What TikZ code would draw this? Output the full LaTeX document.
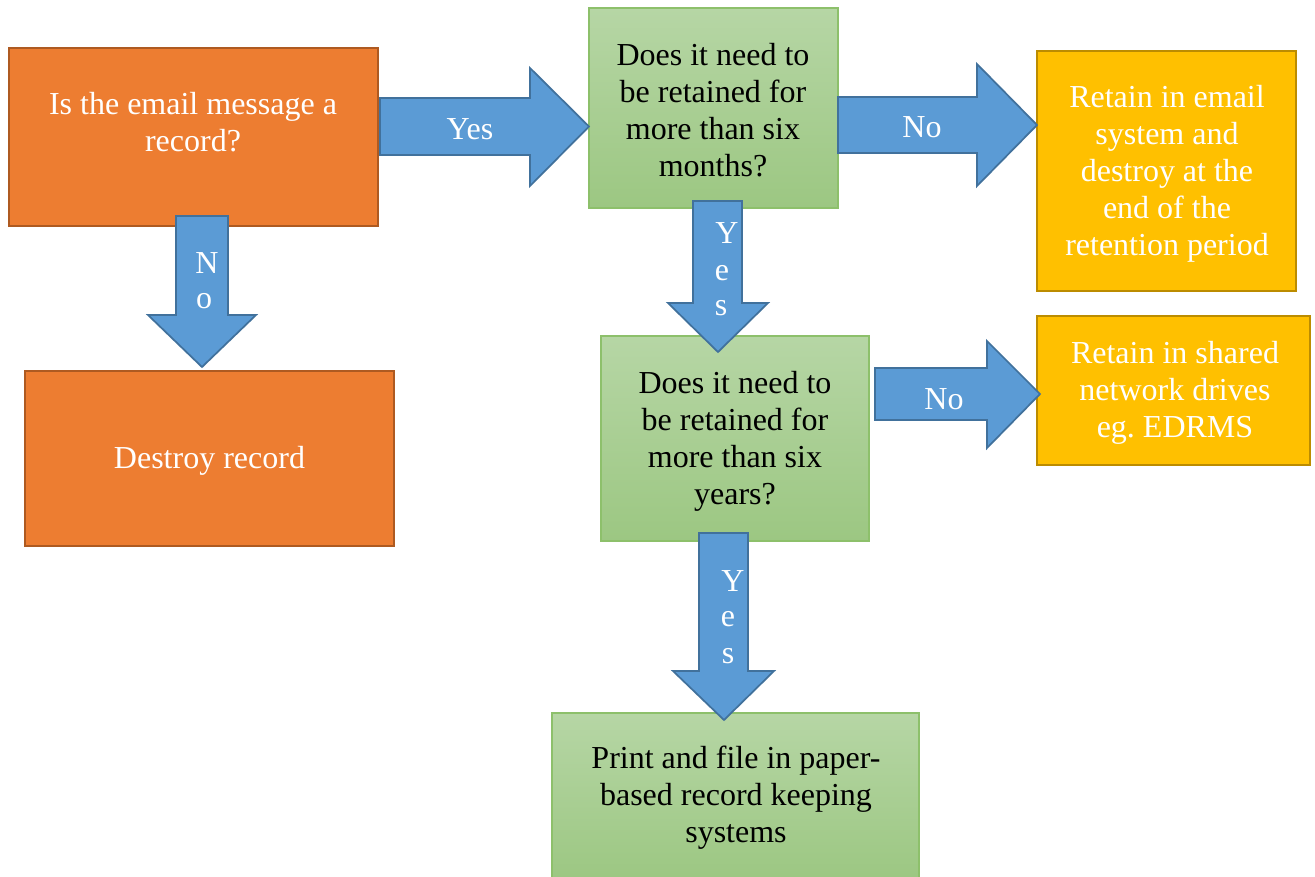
\documentclass[tikz,border=0pt]{standalone}
\usepackage{fontspec}
\setmainfont{Liberation Serif}
\frenchspacing
\definecolor{orfill}{HTML}{ED7D31}
\definecolor{ordraw}{HTML}{AE5A21}
\definecolor{grtop}{HTML}{B6D6A5}
\definecolor{grbot}{HTML}{9CC782}
\definecolor{grdraw}{HTML}{8DC06B}
\definecolor{yefill}{HTML}{FFC000}
\definecolor{yedraw}{HTML}{BC8C00}
\definecolor{blfill}{HTML}{5B9BD5}
\definecolor{bldraw}{HTML}{41719C}
\tikzset{
  box/.style={rectangle, inner sep=0pt, line width=1.3pt},
  orbox/.style={box, fill=orfill, draw=ordraw},
  grbox/.style={box, top color=grtop, bottom color=grbot, draw=grdraw},
  yebox/.style={box, fill=yefill, draw=yedraw},
  txt/.style={align=center, inner sep=0pt, font=\fontsize{24}{27.75}\selectfont},
  wtxt/.style={txt, text=white},
  btxt/.style={txt, text=black},
  fat/.style={fill=blfill, draw=bldraw, line width=1.3pt, line join=miter},
}
\begin{document}
\begin{tikzpicture}[x=0.75pt, y=-0.75pt]
\useasboundingbox (0,0) rectangle (1315,876);
% boxes
\node[orbox, minimum width=369*0.75pt, minimum height=178*0.75pt] (box1) at (193.5,137) {};
\node[wtxt] (t1) at (193,122) {Is the email message a\\record?};
\node[orbox, minimum width=369*0.75pt, minimum height=175*0.75pt] (destroy) at (209.5,458.5) {};
\node[wtxt] (t2) at (209.5,461) {Destroy record};
\node[grbox, minimum width=249*0.75pt, minimum height=200*0.75pt] (q1) at (713.5,108) {};
\node[btxt] (t3) at (713,110) {Does it need to\\be retained for\\more than six\\months?};
\node[yebox, minimum width=259*0.75pt, minimum height=240*0.75pt] (ret1) at (1166.5,171) {};
\node[wtxt] (t4) at (1167,173.5) {Retain in email\\system and\\destroy at the\\end of the\\retention period};
\node[grbox, minimum width=268*0.75pt, minimum height=205*0.75pt] (q2) at (735,438.5) {};
\node[btxt] (t5) at (735,441) {Does it need to\\be retained for\\more than six\\years?};
\node[yebox, minimum width=273*0.75pt, minimum height=149*0.75pt] (ret2) at (1173.5,390.5) {};
\node[wtxt] (t6) at (1175,393) {Retain in shared\\network drives\\eg. EDRMS};
\node[grbox, minimum width=367*0.75pt, minimum height=167*0.75pt] (print) at (735.5,796.5) {};
\node[btxt] (t7) at (736,798) {Print and file in paper-\\based record keeping\\systems};
% block arrows
\draw[fat] (380,98) -- (530,98) -- (530,68) -- (589,126.5) -- (530,186) -- (530,155) -- (380,155) -- cycle;
\node[wtxt] (y1) at (470,129) {Yes};
\draw[fat] (838,97) -- (977,97) -- (977,64) -- (1037,125) -- (977,186) -- (977,153) -- (838,153) -- cycle;
\node[wtxt] (n1) at (922,127) {No};
\draw[fat] (875,368) -- (987,368) -- (987,341) -- (1040,394) -- (987,448) -- (987,420) -- (875,420) -- cycle;
\node[wtxt] (n2) at (944,399) {No};
\draw[fat] (176,216) -- (228,216) -- (228,315) -- (256,315) -- (202,367) -- (148,315) -- (176,315) -- cycle;
\node[wtxt] (n3a) at (207,263) {N};
\node[wtxt] (n3b) at (204,301) {o};
\draw[fat] (693,201) -- (742,201) -- (742,303) -- (768,303) -- (718,352) -- (668,303) -- (693,303) -- cycle;
\node[wtxt] (y2a) at (727,233) {Y};
\node[wtxt] (y2b) at (722,273) {e};
\node[wtxt] (y2c) at (721,308) {s};
\draw[fat] (699,533) -- (748,533) -- (748,671) -- (774,671) -- (724,720) -- (673,671) -- (699,671) -- cycle;
\node[wtxt] (y3a) at (733,581) {Y};
\node[wtxt] (y3b) at (728,619) {e};
\node[wtxt] (y3c) at (728,656) {s};
\end{tikzpicture}
\end{document}
